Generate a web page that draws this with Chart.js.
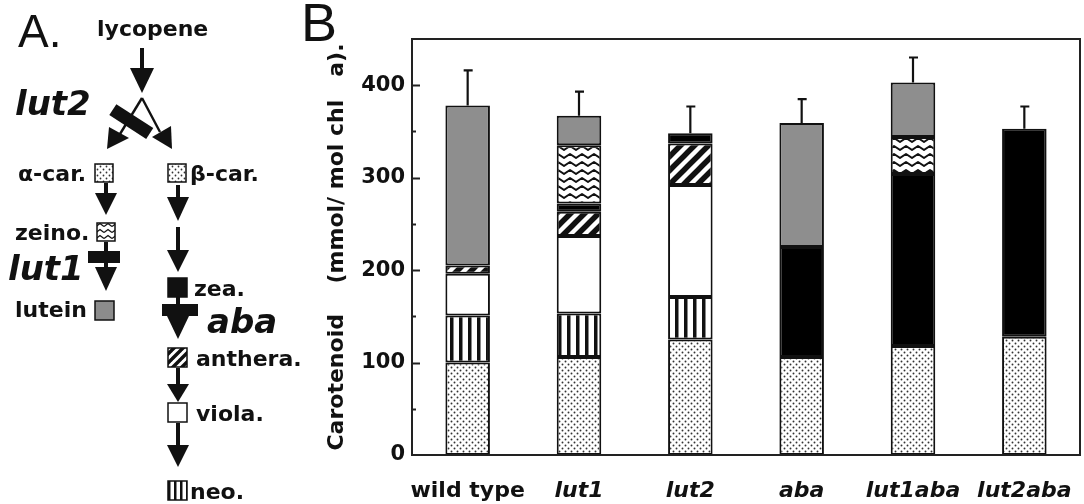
<!DOCTYPE html>
<html>
<head>
<meta charset="utf-8">
<script src="https://cdn.jsdelivr.net/npm/chart.js@4/dist/chart.umd.min.js"></script>
<style>
  html, body { margin: 0; padding: 0; background: #fff; }
  #wrap { position: relative; width: 1084px; height: 504px; overflow: hidden; }
  #chart { position: absolute; left: 0; top: 0; }
  #panelA { position: absolute; left: 0; top: 0; }
  #labelB { position: absolute; left: 301px; top: -9px; font: 54px "Liberation Sans", Arial, sans-serif; color: #111; }
</style>
</head>
<body>
<div id="wrap">
  <canvas id="chart" width="1084" height="504"></canvas>
  <div id="labelB">B</div>
  <svg id="panelA" width="300" height="504" xmlns="http://www.w3.org/2000/svg">
    <defs>
      <pattern id="pDots" width="6" height="6" patternUnits="userSpaceOnUse">
        <rect width="6" height="6" fill="#fff"/>
        <circle cx="1.5" cy="1.5" r="0.9" fill="#333"/>
        <circle cx="4.5" cy="4.5" r="0.9" fill="#333"/>
      </pattern>
      <pattern id="pWave" width="8" height="6" patternUnits="userSpaceOnUse">
        <rect width="8" height="6" fill="#fff"/>
        <polyline points="0,4.5 4,1.5 8,4.5" fill="none" stroke="#111" stroke-width="1.4"/>
      </pattern>
      <pattern id="pDiag" width="9" height="9" patternUnits="userSpaceOnUse">
        <rect width="9" height="9" fill="#fff"/>
        <path d="M-1,10 L10,-1 M-1,1 L1,-1 M8,10 L10,8" stroke="#111" stroke-width="3.5"/>
      </pattern>
      <pattern id="pVert" width="6" height="6" patternUnits="userSpaceOnUse">
        <rect width="6" height="6" fill="#fff"/>
        <rect width="2.5" height="6" fill="#111"/>
      </pattern>
    </defs>
    <g font-family="DejaVu Sans, sans-serif" font-weight="bold" font-size="22" fill="#111">
      <text x="18" y="47" font-family="Liberation Sans, Arial, sans-serif" font-weight="normal" font-size="46">A.</text>
      <text x="97" y="36">lycopene</text>
      <text x="15" y="115" font-size="34" font-style="italic">lut2</text>
      <text x="18" y="181">α-car.</text>
      <text x="190" y="181">β-car.</text>
      <text x="15" y="240">zeino.</text>
      <text x="8" y="280" font-size="34" font-style="italic">lut1</text>
      <text x="15" y="317">lutein</text>
      <text x="194" y="296">zea.</text>
      <text x="207" y="333" font-size="34" font-style="italic">aba</text>
      <text x="196" y="366">anthera.</text>
      <text x="196" y="421">viola.</text>
      <text x="190" y="499">neo.</text>
    </g>
    <g stroke="#111" fill="#111">
      <!-- lycopene arrow -->
      <line x1="142" y1="48" x2="142" y2="72" stroke-width="4"/>
      <polygon points="130,68 154,68 142,93" stroke="none"/>
      <!-- split -->
      <line x1="142" y1="98" x2="120" y2="134" stroke-width="2.4"/>
      <line x1="142" y1="98" x2="160" y2="132" stroke-width="2.4"/>
      <polygon points="109,127 129,138 107,149" stroke="none"/>
      <polygon points="152,137 171,126 172,149" stroke="none"/>
      <rect x="109" y="115" width="44" height="13" transform="rotate(33 131 122)" stroke="none"/>
      <!-- left branch -->
      <line x1="106" y1="183" x2="106" y2="196" stroke-width="4"/>
      <polygon points="95,193 117,193 106,215" stroke="none"/>
      <line x1="106" y1="242" x2="106" y2="272" stroke-width="4"/>
      <rect x="88" y="251" width="32" height="12" stroke="none"/>
      <polygon points="95,267 117,267 106,291" stroke="none"/>
      <!-- right branch -->
      <line x1="178" y1="185" x2="178" y2="200" stroke-width="4"/>
      <polygon points="167,197 189,197 178,221" stroke="none"/>
      <line x1="178" y1="227" x2="178" y2="254" stroke-width="4"/>
      <polygon points="167,250 189,250 178,272" stroke="none"/>
      <line x1="178" y1="297" x2="178" y2="320" stroke-width="4"/>
      <rect x="162" y="304" width="36" height="12" stroke="none"/>
      <polygon points="167,316 189,316 178,339" stroke="none"/>
      <line x1="178" y1="368" x2="178" y2="388" stroke-width="4"/>
      <polygon points="167,384 189,384 178,402" stroke="none"/>
      <line x1="178" y1="423" x2="178" y2="449" stroke-width="4"/>
      <polygon points="167,445 189,445 178,467" stroke="none"/>
    </g>
    <g stroke="#111" stroke-width="1.5">
      <rect x="95" y="164" width="18" height="18" fill="url(#pDots)"/>
      <rect x="168" y="164" width="18" height="18" fill="url(#pDots)"/>
      <rect x="97" y="223" width="18" height="18" fill="url(#pWave)"/>
      <rect x="95" y="301" width="19" height="19" fill="#8c8c8c"/>
      <rect x="168" y="278" width="19" height="19" fill="#111"/>
      <rect x="168" y="348" width="19" height="19" fill="url(#pDiag)"/>
      <rect x="168" y="403" width="19" height="19" fill="#fff"/>
      <rect x="168" y="481" width="19" height="19" fill="url(#pVert)"/>
    </g>
  </svg>
</div>
<script>
// ---- data ----
const categories = ['wild type', 'lut1', 'lut2', 'aba', 'lut1aba', 'lut2aba'];
const betaCarotene = [100, 106, 125, 106, 118, 128];
const neoxanthin   = [51, 47, 46, null, null, null];
const violaxanthin = [45, 84, 121, null, null, null];
const antheraxanthin = [9, 26, 45, null, null, null];
const zeaxanthin   = [null, 9, 11, 119, 186, 225];
const zeinoxanthin = [null, 63, null, null, 40, null];
const lutein       = [173, 32, null, 134, 59, null];
const errorUp      = [38, 26, 29, 26, 27, 24];
const yTicks = [0, 100, 200, 300, 400];

// ---- patterns ----
function makePattern(w, h, draw) {
  const c = document.createElement('canvas');
  c.width = w; c.height = h;
  const g = c.getContext('2d');
  g.fillStyle = '#fff'; g.fillRect(0, 0, w, h);
  draw(g);
  return c.getContext('2d').createPattern(c, 'repeat');
}
const dotPattern = makePattern(6, 6, g => {
  g.fillStyle = '#333';
  g.beginPath(); g.arc(1.5, 1.5, 0.95, 0, Math.PI * 2); g.fill();
  g.beginPath(); g.arc(4.5, 4.5, 0.95, 0, Math.PI * 2); g.fill();
});
const vertPattern = makePattern(9, 4, g => {
  g.fillStyle = '#111'; g.fillRect(0, 0, 3.5, 4);
});
const diagPattern = makePattern(14, 14, g => {
  g.strokeStyle = '#111'; g.lineWidth = 5.5;
  g.beginPath();
  g.moveTo(-3, 17); g.lineTo(17, -3);
  g.moveTo(-3, 3); g.lineTo(3, -3);
  g.moveTo(11, 17); g.lineTo(17, 11);
  g.stroke();
});
const wavePattern = makePattern(12, 8, g => {
  g.strokeStyle = '#111'; g.lineWidth = 2; g.lineJoin = 'round';
  g.beginPath();
  g.moveTo(-6, 2); g.lineTo(0, 6); g.lineTo(6, 2); g.lineTo(12, 6); g.lineTo(18, 2);
  g.stroke();
});

function ds(label, data, fill) {
  return { label, data, backgroundColor: fill, borderColor: '#111', borderWidth: 2,
           borderSkipped: false, stack: 's' };
}

const framePlugin = {
  id: 'frame',
  afterDraw(chart) {
    const { ctx, chartArea: a, scales } = chart;
    ctx.save();
    ctx.strokeStyle = '#222'; ctx.lineWidth = 2;
    ctx.strokeRect(a.left, a.top, a.right - a.left, a.bottom - a.top);
    // inward ticks on the left axis
    for (let v = 50; v <= 400; v += 50) {
      const y = Math.round(scales.y.getPixelForValue(v)) + 0.5;
      const len = v % 100 === 0 ? 8 : 4;
      ctx.beginPath(); ctx.moveTo(a.left, y); ctx.lineTo(a.left + len, y); ctx.stroke();
    }
    ctx.restore();
  },
  afterDatasetsDraw(chart) {
    const { ctx, scales } = chart;
    ctx.save();
    ctx.strokeStyle = '#111'; ctx.lineWidth = 2.2;
    categories.forEach((c, i) => {
      let total = 0;
      chart.data.datasets.forEach(d => { total += d.data[i] || 0; });
      const x = scales.x.getPixelForValue(i);
      const y0 = scales.y.getPixelForValue(total);
      const y1 = scales.y.getPixelForValue(total + errorUp[i]);
      ctx.beginPath();
      ctx.moveTo(x, y0); ctx.lineTo(x, y1);
      ctx.moveTo(x - 4, y1); ctx.lineTo(x + 5, y1);
      ctx.stroke();
    });
    ctx.restore();
  }
};

new Chart(document.getElementById('chart'), {
  type: 'bar',
  data: {
    labels: categories,
    datasets: [
      ds('β-car.', betaCarotene, dotPattern),
      ds('neo.', neoxanthin, vertPattern),
      ds('viola.', violaxanthin, '#ffffff'),
      ds('anthera.', antheraxanthin, diagPattern),
      ds('zea.', zeaxanthin, '#000000'),
      ds('zeino.', zeinoxanthin, wavePattern),
      ds('lutein', lutein, '#8e8e8e')
    ]
  },
  options: {
    responsive: false,
    animation: false,
    devicePixelRatio: 1,
    layout: { padding: { left: 320, top: 39, right: 4, bottom: 0 } },
    plugins: { legend: { display: false }, tooltip: { enabled: false } },
    datasets: { bar: { barPercentage: 0.4, categoryPercentage: 1.0 } },
    scales: {
      x: {
        stacked: true,
        grid: { display: false, drawTicks: false },
        border: { display: false },
        ticks: {
          padding: 23,
          color: '#111',
          autoSkip: false,
          maxRotation: 0,
          minRotation: 0,
          font: (ctx) => ({ family: '"DejaVu Sans", sans-serif', size: 22, weight: 'bold',
                            style: ctx.index === 0 ? 'normal' : 'italic' })
        },
        afterFit: (s) => { s.height = 49; s.paddingLeft = 0; s.paddingRight = 0; }
      },
      y: {
        stacked: true,
        min: 0, max: 450,
        afterBuildTicks: (s) => { s.ticks = yTicks.map(v => ({ value: v })); },
        grid: { display: false, drawTicks: false },
        border: { display: false },
        ticks: {
          padding: 7,
          color: '#111',
          font: { family: '"DejaVu Sans", sans-serif', size: 21, weight: 'bold' }
        },
        title: {
          display: true,
          text: 'Carotenoid    (mmol/ mol chl   a).',
          color: '#111',
          font: { family: '"DejaVu Sans", sans-serif', size: 22, weight: 'bold' },
          padding: { top: 4, bottom: 0 }
        },
        afterFit: (s) => { s.width = 92; s.paddingTop = 0; s.paddingBottom = 0; }
      }
    }
  },
  plugins: [framePlugin]
});
</script>
</body>
</html>
